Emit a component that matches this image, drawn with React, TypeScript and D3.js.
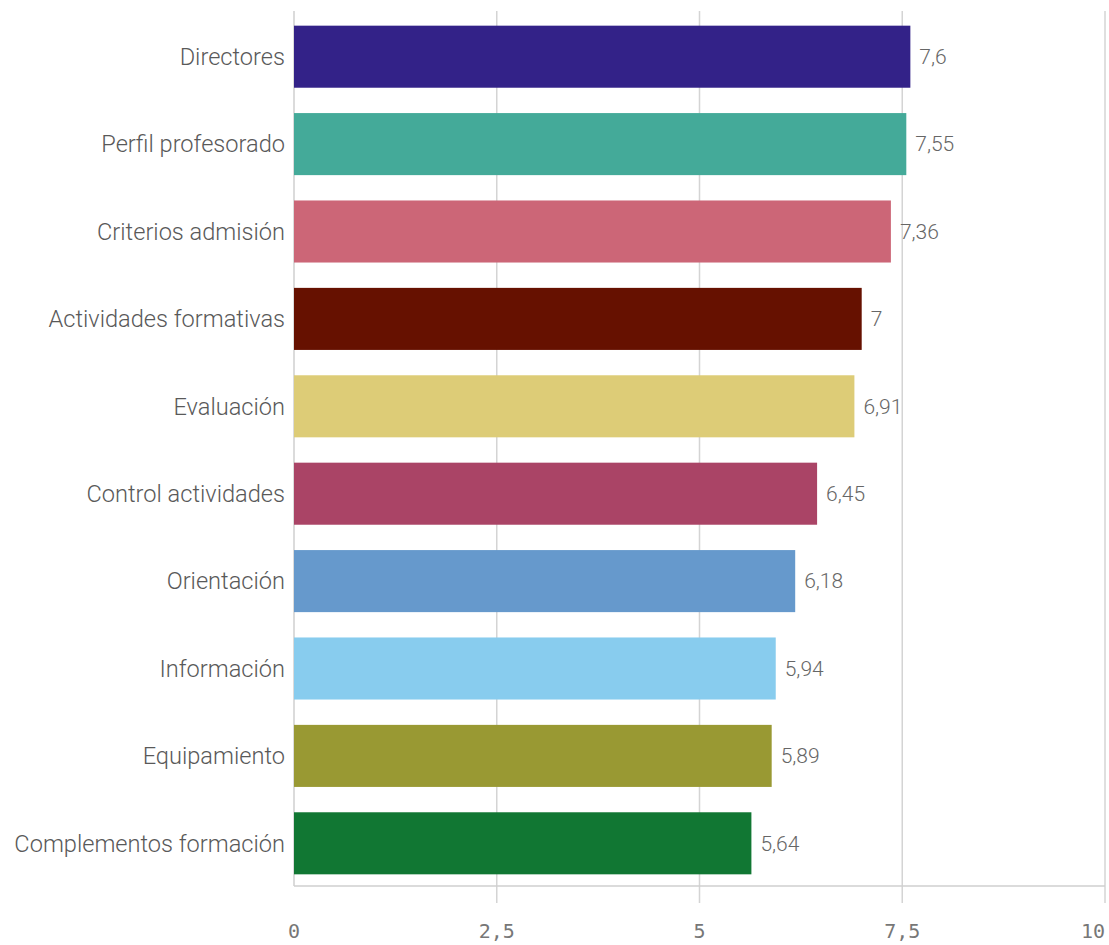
import React from "react";
import * as d3 from "d3";

const categories = [
  "Directores",
  "Perfil profesorado",
  "Criterios admisión",
  "Actividades formativas",
  "Evaluación",
  "Control actividades",
  "Orientación",
  "Información",
  "Equipamiento",
  "Complementos formación",
];
const values = [7.6, 7.55, 7.36, 7, 6.91, 6.45, 6.18, 5.94, 5.89, 5.64];
const colors = [
  "#332288",
  "#44AA99",
  "#CC6677",
  "#661100",
  "#DDCC77",
  "#AA4466",
  "#6699CC",
  "#88CCEE",
  "#999933",
  "#117733",
];
const ticks = [0, 2.5, 5, 7.5, 10];

const W = 1109;
const H = 945;
const left = 294;
const right = 1105;
const top = 13;
const bottom = 887;

const fmt = (v: number) => String(v).replace(".", ",");

export default function App() {
  const x = d3.scaleLinear().domain([0, 10]).range([left, right]);
  const y = d3
    .scaleBand<string>()
    .domain(categories)
    .range([top, bottom])
    .paddingInner(0.29)
    .paddingOuter(0.145);
  const axisY = 886;
  return (
    <svg
      width={W}
      height={H}
      style={{ position: "absolute", left: 0, top: 0, background: "#fff" }}
    >
      {ticks.map((t) => (
        <g key={t}>
          {t > 0 && (
            <line
              x1={x(t)}
              x2={x(t)}
              y1={11}
              y2={903}
              stroke="#d4d4d4"
              strokeWidth={1.5}
            />
          )}
          <text
            x={x(t)}
            y={938}
            textAnchor={t === 10 ? "end" : "middle"}
            fontFamily="'DejaVu Sans Mono', monospace"
            fontSize={20}
            fill="#777"
          >
            {fmt(t)}
          </text>
        </g>
      ))}
      <line x1={left} x2={left} y1={11} y2={axisY} stroke="#cfcfcf" strokeWidth={1.5} />
      <line x1={left} x2={right} y1={axisY} y2={axisY} stroke="#cfcfcf" strokeWidth={1.5} />
      {categories.map((c, i) => {
        const yy = y(c)!;
        const bw = y.bandwidth();
        return (
          <g key={c}>
            <rect
              x={x(0)}
              y={yy}
              width={x(values[i]) - x(0)}
              height={bw}
              fill={colors[i]}
            />
            <text
              x={285}
              y={yy + bw / 2}
              dy="0.35em"
              textAnchor="end"
              fontFamily="Roboto, sans-serif"
              fontWeight={300}
              fontSize={23.6}
              fill="#595959"
            >
              {c}
            </text>
            <text
              x={x(values[i]) + 9}
              y={yy + bw / 2}
              dy="0.35em"
              textAnchor="start"
              fontFamily="Roboto, sans-serif"
              fontWeight={300}
              fontSize={21}
              fill="#666"
            >
              {fmt(values[i])}
            </text>
          </g>
        );
      })}
    </svg>
  );
}
